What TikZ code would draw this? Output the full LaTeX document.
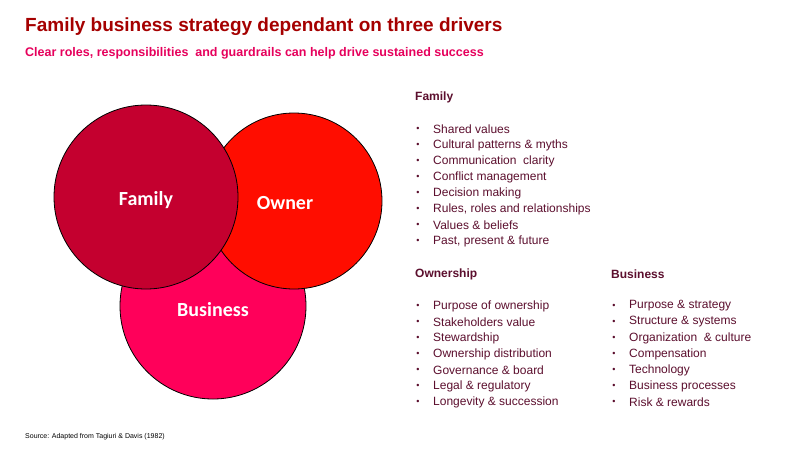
\documentclass[tikz,border=0pt]{standalone}
\usepackage{fontspec}
\setmainfont{Liberation Sans}
\newfontfamily\carl{Carlito}
\definecolor{fam}{HTML}{C4002F}
\definecolor{own}{HTML}{FF0D00}
\definecolor{bus}{HTML}{FF005A}
\definecolor{ttl}{HTML}{A50000}
\definecolor{sub}{HTML}{E6005C}
\definecolor{txt}{HTML}{5C0F2E}
\begin{document}
\begin{tikzpicture}[x=1pt,y=-1pt,
  circ/.style={draw=black,line width=0.8pt},
  lab/.style={text=white,font=\carl\bfseries\fontsize{20}{20}\selectfont},
  item/.style={anchor=west,text=txt,font=\fontsize{12}{12}\selectfont,inner sep=0pt},
  head/.style={anchor=west,text=txt,font=\bfseries\fontsize{12}{12}\selectfont,inner sep=0pt},
  bul/.style={text=txt,font=\fontsize{9}{9}\selectfont,inner sep=0pt}]
\useasboundingbox (0,0) rectangle (800,450);
\fill[white] (0,0) rectangle (800,450);
\node[anchor=west,inner sep=0pt,text=ttl,font=\bfseries\fontsize{19}{19}\selectfont] (title) at (25,27) {Family business strategy dependant on three drivers};
\node[anchor=west,inner sep=0pt,text=sub,font=\bfseries\fontsize{12.5}{12.5}\selectfont] (subt) at (25,53) {Clear roles, responsibilities\ \ and guardrails can help drive sustained success};
\draw[circ,fill=bus] (213,306) circle (93);
\draw[circ,fill=own] (294,201) circle (88);
\draw[circ,fill=fam] (146,197) circle (92);
\node[lab] (lf) at (146,200) {Family};
\node[lab] (lo) at (285,203) {Owner};
\node[lab] (lb) at (213,310) {Business};
\node[head] (hf) at (415,97) {Family};
\foreach \t [count=\i from 0] in {Shared values,Cultural patterns \& myths,Communication\ \ clarity,Conflict management,Decision making,{Rules, roles and relationships},Values \& beliefs,{Past, present \& future}}{
  \node[bul] (bf\i) at (418,129+16*\i) {\textbullet};
  \node[item] (tf\i) at (433,129+16*\i) {\t};}
\node[head] (ho) at (415,274) {Ownership};
\foreach \t [count=\i from 0] in {Purpose of ownership,Stakeholders value,Stewardship,Ownership distribution,Governance \& board,Legal \& regulatory,Longevity \& succession}{
  \node[bul] (bo\i) at (418,306+16*\i) {\textbullet};
  \node[item] (to\i) at (433,306+16*\i) {\t};}
\node[head] (hb) at (611,274) {Business};
\foreach \t [count=\i from 0] in {Purpose \& strategy,Structure \& systems,Organization\ \ \& culture,Compensation,Technology,Business processes,Risk \& rewards}{
  \node[bul] (bb\i) at (614,306+16*\i) {\textbullet};
  \node[item] (tb\i) at (629,306+16*\i) {\t};}
\node[anchor=west,inner sep=0pt,font=\fontsize{7}{7}\selectfont] (src) at (25,437) {Source: Adapted from Tagiuri \& Davis (1982)};
\end{tikzpicture}
\end{document}
